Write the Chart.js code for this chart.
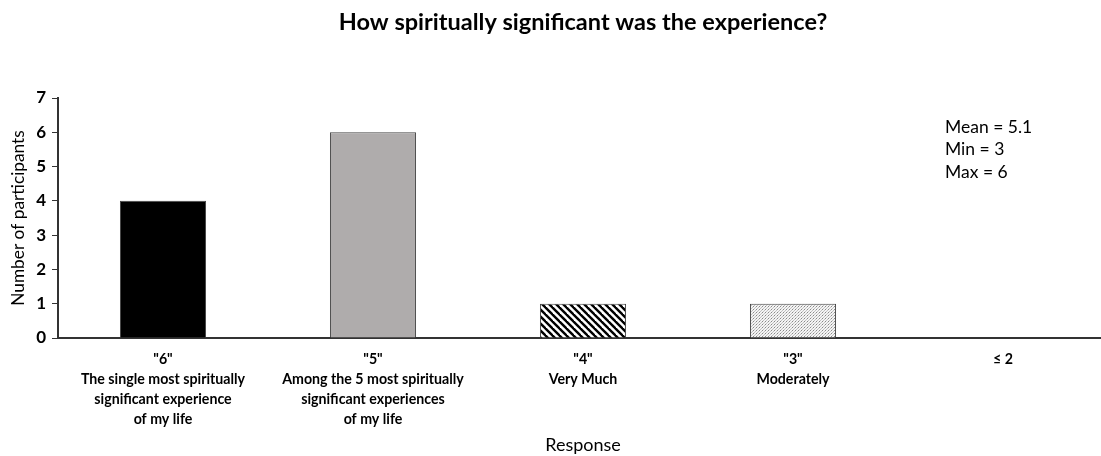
<!DOCTYPE html>
<html>
<head>
<meta charset="utf-8">
<script src="https://cdn.jsdelivr.net/npm/chart.js@4"></script>
<style>
  html, body { margin: 0; padding: 0; background: #fff; overflow: hidden; }
  #wrap { width: 1108px; height: 456px; }
</style>
</head>
<body>
<div id="wrap"><canvas id="spiritChart" width="1108" height="456"></canvas></div>
<script>
// Données du graphique
const categories = [
    ['"6"', 'The single most spiritually', 'significant experience', 'of my life'],
    ['"5"', 'Among the 5 most spiritually', 'significant experiences', 'of my life'],
    ['"4"', 'Very Much'],
    ['"3"', 'Moderately'],
    ['\u2264 2']
];
const participants = [4, 6, 1, 1, 0];
const statsLines = ['Mean = 5.1', 'Min = 3', 'Max = 6'];
const chartTitle = 'How spiritually significant was the experience?';

// Motifs de remplissage
function stripePattern() {
    const c = document.createElement('canvas');
    c.width = 7; c.height = 7;
    const g = c.getContext('2d');
    g.fillStyle = '#fff';
    g.fillRect(0, 0, 7, 7);
    g.strokeStyle = '#000';
    g.lineWidth = 2.4;
    for (let o = -7; o <= 7; o += 7) {
        g.beginPath();
        g.moveTo(o - 1, -1);
        g.lineTo(o + 8, 8);
        g.stroke();
    }
    return g.createPattern(c, 'repeat');
}

function dotPattern() {
    const c = document.createElement('canvas');
    c.width = 3; c.height = 3;
    const g = c.getContext('2d');
    g.fillStyle = '#f4f4f4';
    g.fillRect(0, 0, 3, 3);
    g.fillStyle = '#8a8a8a';
    g.fillRect(0, 0, 1, 1);
    g.fillStyle = '#c0c0c0';
    g.fillRect(2, 1, 1, 1);
    g.fillRect(1, 2, 1, 1);
    return g.createPattern(c, 'repeat');
}

// Texte des statistiques
const statsPlugin = {
    id: 'statsText',
    afterDraw(chart) {
        const ctx = chart.ctx;
        ctx.save();
        ctx.font = '17.5px Lato';
        ctx.fillStyle = '#000';
        ctx.textBaseline = 'middle';
        statsLines.forEach((line, i) => {
            ctx.fillText(line, 945, 127 + i * 22.5);
        });
        ctx.restore();
    }
};

const ctx = document.getElementById('spiritChart');
new Chart(ctx, {
    type: 'bar',
    data: {
        labels: categories,
        datasets: [{
            data: participants,
            backgroundColor: ['#000000', '#afacac', stripePattern(), dotPattern(), '#ffffff'],
            borderColor: '#444',
            borderWidth: 1,
            barPercentage: 0.41,
            categoryPercentage: 1
        }]
    },
    options: {
        responsive: false,
        animation: false,
        layout: { padding: { left: 0, right: 0, top: 0, bottom: 0 } },
        plugins: {
            legend: { display: false },
            tooltip: { enabled: false },
            title: {
                display: true,
                fullSize: false,
                text: chartTitle,
                color: '#000',
                font: { family: 'Lato', size: 23.5, weight: 'bold', lineHeight: 1.2 },
                padding: { top: 8, bottom: 61.8 }
            }
        },
        scales: {
            x: {
                grid: { display: false, drawTicks: false },
                border: { display: true, color: '#333', width: 2 },
                ticks: {
                    color: '#000',
                    padding: 11,
                    maxRotation: 0,
                    autoSkip: false,
                    font: { family: 'Lato', size: 14.2, weight: 'bold', lineHeight: '20px' }
                },
                title: {
                    display: true,
                    text: 'Response',
                    color: '#000',
                    font: { family: 'Lato', size: 18, lineHeight: 1.2 },
                    padding: { top: 0, bottom: 0 }
                },
                afterFit(scale) { scale.height = 118; }
            },
            y: {
                min: 0,
                max: 7,
                ticks: {
                    stepSize: 1,
                    color: '#000',
                    padding: 6,
                    font: { family: 'Lato', size: 17, weight: 'bold' }
                },
                grid: { drawOnChartArea: false, drawTicks: true, tickLength: 6, color: '#333' },
                border: { display: true, color: '#333', width: 2 },
                title: {
                    display: true,
                    text: 'Number of participants',
                    color: '#000',
                    font: { family: 'Lato', size: 17.3, lineHeight: 1.2 },
                    padding: { top: 8, bottom: 0 }
                },
                afterFit(scale) { scale.width = 58; }
            }
        }
    },
    plugins: [statsPlugin]
});
</script>
</body>
</html>
